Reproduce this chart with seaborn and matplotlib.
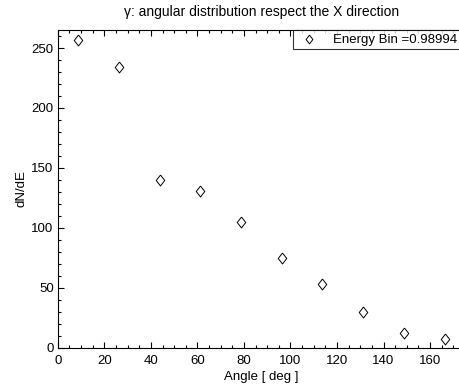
import matplotlib
matplotlib.use('Agg')
import matplotlib.pyplot as plt
import seaborn as sns
import pandas as pd
from matplotlib.ticker import MultipleLocator

angle = [8.75, 26.25, 43.75, 61.25, 78.75, 96.25, 113.75, 131.25, 148.75, 166.25]
dnde = [257, 234, 140, 131, 105, 75, 53, 30, 12, 7]
label = 'Energy Bin =0.98994'

df = pd.DataFrame({'angle': angle, 'dnde': dnde})

sns.set_style('ticks')
plt.rcParams['font.family'] = ['Liberation Sans', 'DejaVu Sans']
plt.rcParams['text.color'] = 'black'
plt.rcParams['axes.labelcolor'] = 'black'
plt.rcParams['xtick.color'] = 'black'
plt.rcParams['ytick.color'] = 'black'

# open diamond, a bit taller than wide
diamond = [(0, 1), (0.78, 0), (0, -1), (-0.78, 0), (0, 1)]

fig = plt.figure(figsize=(4.59, 3.90), dpi=100)
# the original is cropped on the right, so the axes run past the figure edge
ax = fig.add_axes([0.126, 0.108, 0.887, 0.815])

sns.scatterplot(data=df, x='angle', y='dnde', marker=diamond, s=62,
                facecolor='white', edgecolor='black', linewidth=0.7,
                label=label, ax=ax)

ax.set_xlim(0, 175)
ax.set_ylim(0, 265)
ax.xaxis.set_major_locator(MultipleLocator(20))
ax.xaxis.set_minor_locator(MultipleLocator(5))
ax.yaxis.set_major_locator(MultipleLocator(50))
ax.yaxis.set_minor_locator(MultipleLocator(10))
ax.tick_params(which='both', direction='in', top=True, right=True, labelsize=9.5)
ax.tick_params(axis='x', pad=5)
ax.tick_params(axis='y', pad=3)
ax.tick_params(which='major', length=4, width=0.8)
ax.tick_params(which='minor', length=2, width=0.8)
for sp in ax.spines.values():
    sp.set_linewidth(0.8)
    sp.set_color('black')

ax.set_xlabel('Angle [ deg ]', fontsize=9.5, labelpad=3)
ax.set_ylabel('dN/dE', fontsize=9.5, labelpad=3)
ax.set_title('γ: angular distribution respect the X direction', fontsize=10, pad=10)

leg = ax.legend(loc='upper right', bbox_to_anchor=(1.003, 0.923),
                bbox_transform=fig.transFigure, fontsize=9.5, frameon=True,
                fancybox=False, borderaxespad=0, handletextpad=0.8,
                borderpad=0.25, markerscale=0.8)
leg.get_frame().set_edgecolor('black')
leg.get_frame().set_linewidth(0.8)

fig.savefig('out.png', dpi=100)
